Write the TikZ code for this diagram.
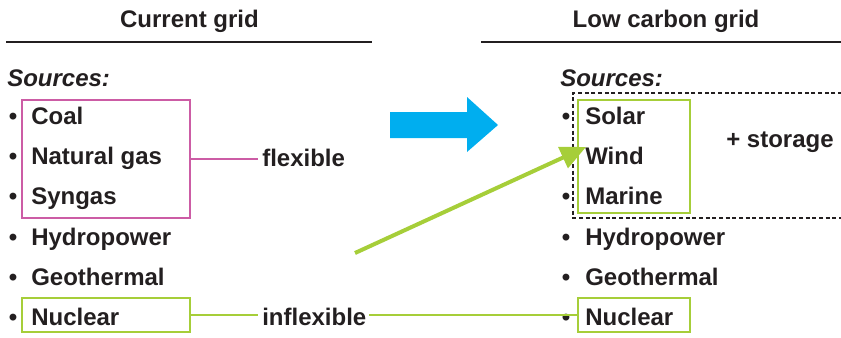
\documentclass[tikz,border=0pt]{standalone}
\usepackage{fontspec}
\setmainfont{Liberation Sans}
\usetikzlibrary{arrows.meta,fit}
\definecolor{txt}{RGB}{35,31,32}
\definecolor{pinkc}{RGB}{204,92,165}
\definecolor{greenc}{RGB}{166,206,57}
\definecolor{bluec}{RGB}{0,174,239}
\tikzset{
  lbl/.style={anchor=base west,inner sep=0pt,text=txt,font=\fontsize{18}{21}\selectfont\bfseries},
  ttl/.style={anchor=base,inner sep=0pt,text=txt,font=\fontsize{18}{21}\selectfont\bfseries},
  src/.style={anchor=base west,inner sep=0pt,text=txt,font=\fontsize{18}{21}\selectfont\bfseries\itshape},
  bul/.style={anchor=base,inner sep=0pt,text=txt,font=\fontsize{18}{21}\selectfont\bfseries},
  pinkbox/.style={draw=pinkc,line width=1.5pt,inner sep=0pt},
  greenbox/.style={draw=greenc,line width=1.5pt,inner sep=0pt},
  pinkline/.style={draw=pinkc,line width=1.5pt},
  greenline/.style={draw=greenc,line width=1.5pt},
  rule/.style={draw=txt,line width=1.5pt},
}
\begin{document}
\begin{tikzpicture}[x=0.75pt,y=-0.75pt]
\useasboundingbox (0,0) rectangle (841,337);
% titles
\node[ttl] (t1) at (189.5,27) {Current grid};
\node[ttl] (t2) at (666,27) {Low carbon grid};
\coordinate (r1a) at (6,42); \coordinate (r1b) at (372,42);
\coordinate (r2a) at (481,42); \coordinate (r2b) at (841,42);
\draw[rule] (r1a) -- (r1b);
\draw[rule] (r2a) -- (r2b);
% left list
\node[src] (s1) at (7,86) {Sources:};
\foreach \y/\t/\n in {124/Coal/lcoal,164/Natural gas/lgas,204/Syngas/lsyn,245/Hydropower/lhyd,285/Geothermal/lgeo,325/Nuclear/lnuc}{
  \node[bul] (b\n) at (13,\y) {•};
  \node[lbl] (\n) at (31,\y) {\t};
}
% right list
\node[src] (s2) at (560,86) {Sources:};
\foreach \y/\t/\n in {124/Solar/rsol,164/Wind/rwin,204/Marine/rmar,245/Hydropower/rhyd,285/Geothermal/rgeo,325/Nuclear/rnuc}{
  \node[bul] (b\n) at (566,\y) {•};
  \node[lbl] (\n) at (585,\y) {\t};
}
\node[lbl] (stor) at (726,147) {+ storage};
% boxes
\coordinate (pa) at (22,100); \coordinate (pb) at (190,218);
\node[pinkbox,fit=(pa)(pb)] (fbox) {};
\coordinate (na) at (22,298); \coordinate (nb) at (190,332);
\node[greenbox,fit=(na)(nb)] (nbox) {};
\coordinate (ra) at (578,100); \coordinate (rb) at (690,213);
\node[greenbox,fit=(ra)(rb)] (rbox) {};
\coordinate (rna) at (578,298); \coordinate (rnb) at (690,332);
\node[greenbox,fit=(rna)(rnb)] (rnbox) {};
% dashed storage box
\coordinate (d1) at (842,93); \coordinate (d2) at (573,93);
\coordinate (d3) at (573,218); \coordinate (d4) at (842,218);
\draw[txt,line width=1.5pt,dash pattern=on 3pt off 2pt] (d1) -- (d2) -- (d3) -- (d4);
% labels
\node[lbl] (flex) at (262,166) {flexible};
\node[lbl] (inflex) at (262,325) {inflexible};
\draw[pinkline] (fbox.east) -- ([xshift=-3]fbox.east -| flex.west);
\draw[greenline] (nbox.east) -- ([xshift=-3]nbox.east -| inflex.west);
\draw[greenline] ([xshift=2]inflex.east |- rnbox.west) -- (rnbox.west);
% blue arrow
\fill[bluec] (390,112) -- (467,112) -- (467,97) -- (498,125) -- (467,152) -- (467,138) -- (390,138) -- cycle;
% green arrow
\coordinate (gs) at (355,253);
\coordinate (gt) at (586,147);
\draw[greenc,line width=3pt,-{Triangle[length=19pt,width=17pt]}] (gs) -- (gt);
\end{tikzpicture}
\end{document}
